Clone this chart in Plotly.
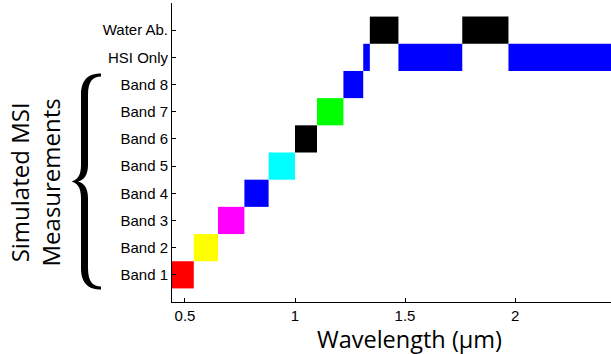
import plotly.graph_objects as go

# ---- data ----
row_labels = ["Band 1", "Band 2", "Band 3", "Band 4", "Band 5", "Band 6",
              "Band 7", "Band 8", "HSI Only", "Water Ab."]
row_pos = list(range(1, len(row_labels) + 1))

band_start = [0.43, 0.54, 0.65, 0.77, 0.88, 1.00, 1.10, 1.22]
band_end   = [0.54, 0.65, 0.77, 0.88, 1.00, 1.10, 1.22, 1.31]
band_color = ["#ff0000", "#ffff00", "#ff00ff", "#0000ff", "#00ffff",
              "#000000", "#00ff00", "#0000ff"]

hsi_start = [1.31, 1.47, 1.97]
hsi_end   = [1.34, 1.76, 2.50]
hsi_color = "#0000ff"

water_start = [1.34, 1.76]
water_end   = [1.47, 1.97]
water_color = "#000000"

x_ticks = [0.5, 1, 1.5, 2]
x_tick_text = ["0.5", "1", "1.5", "2"]

# ---- build segments ----
seg_y, seg_base, seg_len, seg_col = [], [], [], []
for i, (s, e) in enumerate(zip(band_start, band_end)):
    seg_y.append(row_pos[i]); seg_base.append(s); seg_len.append(e - s); seg_col.append(band_color[i])
for s, e in zip(hsi_start, hsi_end):
    seg_y.append(row_pos[8]); seg_base.append(s); seg_len.append(e - s); seg_col.append(hsi_color)
for s, e in zip(water_start, water_end):
    seg_y.append(row_pos[9]); seg_base.append(s); seg_len.append(e - s); seg_col.append(water_color)

fig = go.Figure(go.Bar(
    orientation="h", y=seg_y, x=seg_len, base=seg_base, width=1,
    marker=dict(color=seg_col, line=dict(width=0)),
    hoverinfo="skip", showlegend=False,
))

W, H = 611, 354
ML, MR, MT, MB = 172, 0, 3, 52
PW, PH = W - ML - MR, H - MT - MB

def px(x, y):
    return (x - ML) / PW, (H - MB - y) / PH

def path(cmds):
    out = []
    for c in cmds:
        if isinstance(c, str):
            out.append(c)
        else:
            a, b = px(*c)
            out.append(f"{a:.5f},{b:.5f}")
    return " ".join(out)

brace = path([
    "M", (101, 73.5), "C", (90, 73.5), (81, 78), (81, 95), "L", (81, 165),
    "C", (81, 176), (77, 180), (71.5, 181.5), "C", (77, 183), (81, 187), (81, 198),
    "L", (81, 268), "C", (81, 285), (90, 289.5), (101, 289.5), "L", (101, 286.5),
    "C", (93, 286.5), (88, 282), (88, 268), "L", (88, 198),
    "C", (88, 188), (84, 183), (78, 181.5), "C", (84, 180), (88, 175), (88, 165),
    "L", (88, 95), "C", (88, 81), (93, 76.5), (101, 76.5), "Z",
])

fig.update_layout(
    width=W, height=H,
    margin=dict(l=ML, r=MR, t=MT, b=MB),
    paper_bgcolor="white", plot_bgcolor="white",
    font=dict(family="Liberation Sans, Arial, sans-serif", size=15, color="black"),
    xaxis=dict(range=[0.441, 2.436], tickvals=x_ticks, ticktext=x_tick_text,
               showgrid=False, zeroline=False, showline=True, linecolor="black",
               linewidth=1, ticks="inside", ticklen=4, tickcolor="black"),
    yaxis=dict(range=[0, 11], tickvals=row_pos, ticktext=row_labels,
               showgrid=False, zeroline=False, showline=True, linecolor="black",
               linewidth=1, ticks="inside", ticklen=4, tickcolor="black"),
    shapes=[dict(type="path", xref="paper", yref="paper", path=brace,
                 fillcolor="black", line=dict(width=0))],
    annotations=[
        dict(text="Wavelength (µm)", xref="paper", yref="paper",
             x=px(409.5, 338.5)[0], y=px(409.5, 338.5)[1], xanchor="center", yanchor="middle",
             showarrow=False, font=dict(family="Open Sans", size=23.5, color="black")),
        dict(text="Simulated MSI<br>Measurements", xref="paper", yref="paper",
             x=px(35, 182.5)[0], y=px(35, 182.5)[1], xanchor="center", yanchor="middle",
             textangle=-90, showarrow=False,
             font=dict(family="Open Sans", size=24, color="black")),
    ],
)

fig.write_html("out.html")
